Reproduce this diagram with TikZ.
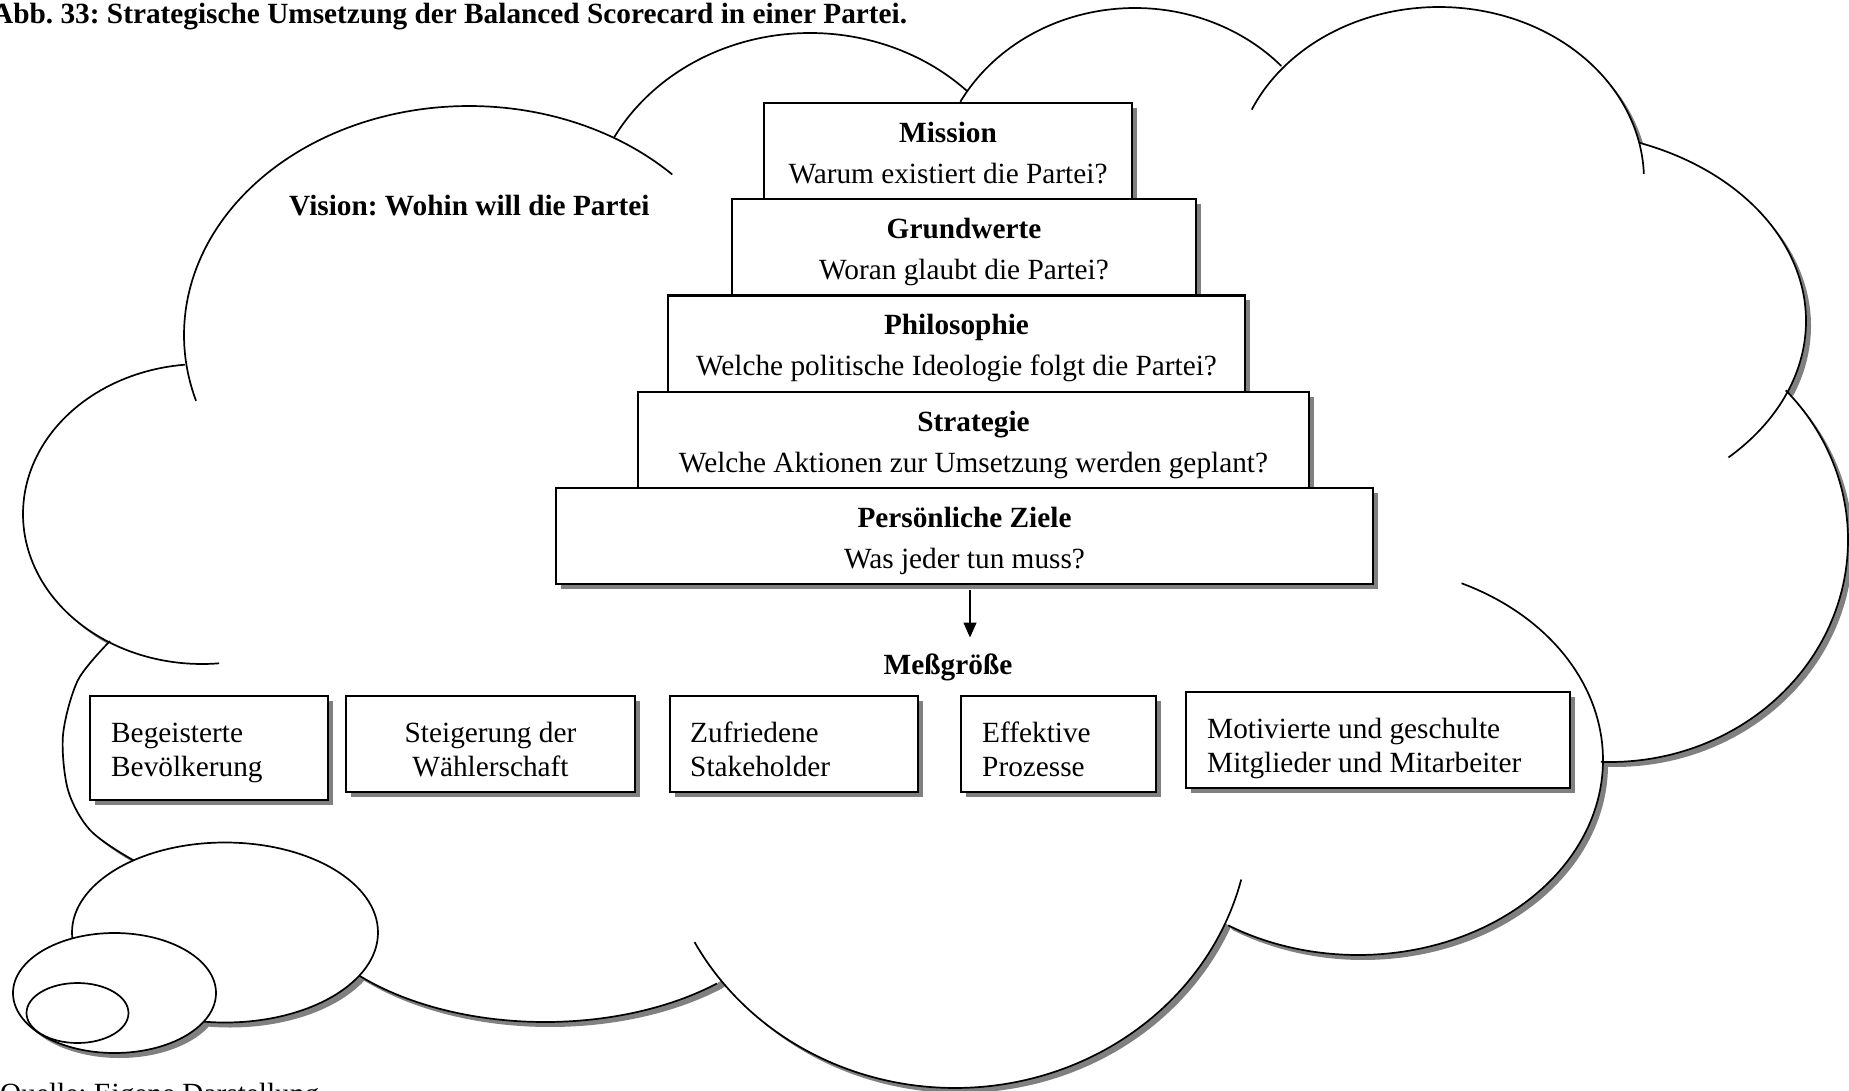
\documentclass[tikz,border=0pt]{standalone}
\usepackage{fontspec}
\setmainfont{Liberation Serif}
\usetikzlibrary{calc,arrows.meta,shadows}
\frenchspacing

\newcommand\bodysize{\fontsize{29.3pt}{34pt}\selectfont}
\newcommand\tiersize{\fontsize{29.3pt}{41pt}\selectfont}

\tikzset{
  cloudline/.style={line width=1.7pt, line join=round},
  shadowfill/.style={fill=black!50, draw=none},
  % outer outline of the thought cloud, lobe by lobe (clockwise)
  cloud silhouette/.style={insert path={
    plot[domain=172.5:300.5, samples=90, variable=\t] ({469+285*cos(\t)},{335+229*sin(\t)})
    -- plot[domain=208.6:314.8, samples=90, variable=\t] ({810+223*cos(\t)},{233+200*sin(\t)})
    -- plot[domain=212.5:317.3, samples=90, variable=\t] ({1135+199*cos(\t)},{188+180*sin(\t)})
    -- plot[domain=220:348, samples=90, variable=\t] ({1439+205*cos(\t)},{180+173*sin(\t)})
    -- plot[domain=290.4:381.5, samples=90, variable=\t] ({1551+255*cos(\t)},{321+190*sin(\t)})
    -- plot[domain=-42.4:92.2, samples=90, variable=\t] ({1610+238*cos(\t)},{540+222*sin(\t)})
    -- plot[domain=0:122, samples=90, variable=\t] ({1358+245*cos(\t)},{760+195*sin(\t)})
    -- plot[domain=23.5:142.5, samples=90, variable=\t] ({955+295*cos(\t)},{813+275*sin(\t)})
    -- plot[domain=48:175, samples=90, variable=\t] ({545+257*cos(\t)},{872+150*sin(\t)})
    -- plot[smooth] coordinates {(289,885) (180,880) (133,860) (90,830) (68,790) (63,735) (78,680) (110,641)}
    -- plot[domain=121:264.5, samples=90, variable=\t] ({202+179*cos(\t)},{514+150*sin(\t)})
    -- cycle}},
  framebox/.style={draw, line width=2.2pt, fill=white, rectangle, inner sep=0pt, outer sep=0pt,
    anchor=north west,
    drop shadow={shadow xshift=5pt, shadow yshift=-5pt, fill=black!50, opacity=1}},
  tiertext/.style={font=\tiersize, anchor=base, inner sep=0pt},
  plaintext/.style={font=\bodysize, inner sep=0pt},
  boldtext/.style={font=\bodysize\bfseries, inner sep=0pt},
}

\begin{document}
\begin{tikzpicture}[x=1pt, y=-1pt]
  \useasboundingbox (0,0) rectangle (1849,1091);
  \fill[white] (0,0) rectangle (1849,1091);

  % shadows of the cloud and of the two larger bubbles
  \begin{scope}[shift={(5,5)}]
    \fill[shadowfill, cloud silhouette];
    \fill[shadowfill] (225,932.5) ellipse [x radius=153, y radius=90];
    \fill[shadowfill] (114.5,993) ellipse [x radius=101.5, y radius=60];
  \end{scope}

  % cloud body
  \fill[white, cloud silhouette];

  % every lobe arc, including the short inner ends
  \foreach \cx/\cy/\rx/\ry/\ta/\tb in {
      469/335/285/229/163.3/315.5,
      810/233/223/200/208.6/314.8,
      1135/188/199/180/208.6/317.3,
      1439/180/205/173/204/358,
      1551/321/255/190/290.4/405.9,
      1610/540/238/222/-42.4/92.2,
      1358/760/245/195/-65/122,
      955/813/295/275/14/152,
      545/872/257/150/48/175,
      202/514/179/150/84.5/264.5}
    \draw[cloudline] plot[domain=\ta:\tb, samples=100, variable=\t]
      ({\cx+\rx*cos(\t)},{\cy+\ry*sin(\t)});
  \draw[cloudline] plot[smooth] coordinates
    {(110,641) (78,680) (63,735) (68,790) (90,830) (133,860) (180,880) (289,885)};

  % thought bubbles
  \draw[cloudline, fill=white] (225,932.5) ellipse [x radius=153, y radius=90];
  \draw[cloudline, fill=white] (114.5,993) ellipse [x radius=101.5, y radius=60];
  \draw[cloudline, fill=white] (77.5,1013) ellipse [x radius=51, y radius=30];

  % captions
  \node[boldtext, anchor=base west] (title) at (-8,24)
    {Abb. 33: Strategische Umsetzung der Balanced Scorecard in einer Partei.};
  \node[plaintext, anchor=base west] (source) at (0,1103) {Quelle: Eigene Darstellung};
  \node[boldtext, anchor=base west] (vision) at (289,216) {Vision: Wohin will die Partei};

  % pyramid of tiers
  \node[framebox, minimum width=368pt, minimum height=96.2pt] (mission) at (764,103) {};
  \node[tiertext] (mission-t) at ($(mission.north)+(0,39.5)$)
    {\begin{tabular}[t]{@{}c@{}}\textbf{Mission}\\Warum existiert die Partei?\end{tabular}};
  \node[framebox, minimum width=464pt, minimum height=96.2pt] (grundwerte) at (732,199.2) {};
  \node[tiertext] (grundwerte-t) at ($(grundwerte.north)+(0,39.5)$)
    {\begin{tabular}[t]{@{}c@{}}\textbf{Grundwerte}\\Woran glaubt die Partei?\end{tabular}};
  \node[framebox, minimum width=577pt, minimum height=96.2pt] (philosophie) at (668,295.4) {};
  \node[tiertext] (philosophie-t) at ($(philosophie.north)+(0,39.5)$)
    {\begin{tabular}[t]{@{}c@{}}\textbf{Philosophie}\\Welche politische Ideologie folgt die Partei?\end{tabular}};
  \node[framebox, minimum width=671pt, minimum height=96.2pt] (strategie) at (638,391.6) {};
  \node[tiertext] (strategie-t) at ($(strategie.north)+(0,39.5)$)
    {\begin{tabular}[t]{@{}c@{}}\textbf{Strategie}\\Welche Aktionen zur Umsetzung werden geplant?\end{tabular}};
  \node[framebox, minimum width=817pt, minimum height=96.2pt] (ziele) at (556,487.8) {};
  \node[tiertext] (ziele-t) at ($(ziele.north)+(0,39.5)$)
    {\begin{tabular}[t]{@{}c@{}}\textbf{Persönliche Ziele}\\Was jeder tun muss?\end{tabular}};

  % measures
  \node[boldtext, anchor=base] (mg) at (948,674.5) {Meßgröße};
  \draw[line width=1.5pt, -{Triangle[length=15pt, width=13pt]}]
    ($(ziele.south)+(5.5,6)$) -- ($(mg.base)+(22,-37)$);

  \node[framebox, minimum width=238pt, minimum height=104pt] (m1) at (90,696) {};
  \node[plaintext, anchor=base west] (m1-t) at ($(m1.north west)+(21,46)$)
    {\begin{tabular}[t]{@{}l@{}}Begeisterte\\Bevölkerung\end{tabular}};
  \node[framebox, minimum width=289pt, minimum height=96pt] (m2) at (346,696) {};
  \node[plaintext, anchor=base] (m2-t) at ($(m2.north)+(0,46)$)
    {\begin{tabular}[t]{@{}c@{}}Steigerung der\\Wählerschaft\end{tabular}};
  \node[framebox, minimum width=248pt, minimum height=96pt] (m3) at (670,696) {};
  \node[plaintext, anchor=base west] (m3-t) at ($(m3.north west)+(20,46)$)
    {\begin{tabular}[t]{@{}l@{}}Zufriedene\\Stakeholder\end{tabular}};
  \node[framebox, minimum width=195pt, minimum height=96pt] (m4) at (961,696) {};
  \node[plaintext, anchor=base west] (m4-t) at ($(m4.north west)+(21,46)$)
    {\begin{tabular}[t]{@{}l@{}}Effektive\\Prozesse\end{tabular}};
  \node[framebox, minimum width=384pt, minimum height=96pt] (m5) at (1186,692) {};
  \node[plaintext, anchor=base west] (m5-t) at ($(m5.north west)+(21,46)$)
    {\begin{tabular}[t]{@{}l@{}}Motivierte und geschulte\\Mitglieder und Mitarbeiter\end{tabular}};
\end{tikzpicture}
\end{document}
